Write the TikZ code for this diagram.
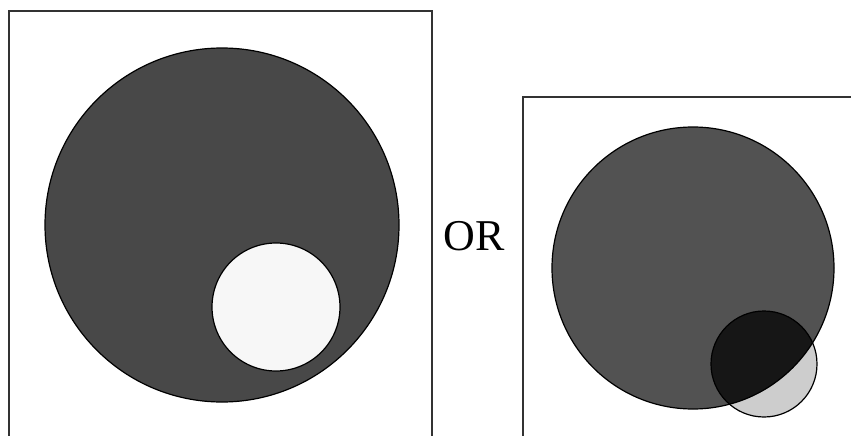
\documentclass[tikz,border=0pt]{standalone}
\usepackage{fontspec}
\setmainfont{Liberation Serif}
\definecolor{discgray}{RGB}{72,72,72}
\definecolor{rightgray}{RGB}{82,82,82}
\definecolor{overlapgray}{RGB}{22,22,22}
\definecolor{lightdisc}{RGB}{205,205,205}
\begin{document}
\begin{tikzpicture}[x=0.5pt, y=0.5pt,
    framebox/.style={draw=black!80, line width=1pt},
    disc/.style={draw=black, line width=0.6pt}]
  \useasboundingbox (0,0) rectangle (851,435);
  \clip (0,0) rectangle (851,435);

  % left frame: circle with a hole inside
  \draw[framebox] (9,-10) -- (9,424) -- (432,424) -- (432,-10);
  \fill[discgray] (222,210) circle (177);
  \draw[disc] (222,210) circle (177);
  \filldraw[disc, fill=black!3] (276,128) circle (64);

  \node[font=\fontsize{22}{26}\selectfont, inner sep=0pt] (orlabel) at (474.5,199) {OR};

  % right frame: overlapping circles
  \draw[framebox] (523,-10) -- (523,338) -- (861,338);
  \fill[lightdisc] (764,71) circle (53);
  \fill[rightgray] (693,167) circle (141);
  \begin{scope}
    \clip (693,167) circle (141);
    \fill[overlapgray] (764,71) circle (53);
  \end{scope}
  \draw[disc] (693,167) circle (141);
  \draw[disc] (764,71) circle (53);
\end{tikzpicture}
\end{document}
